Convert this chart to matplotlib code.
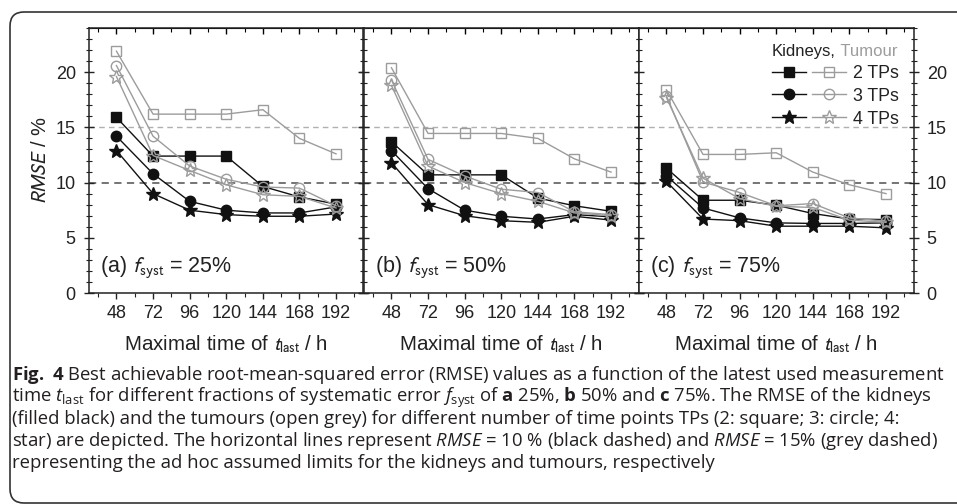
import matplotlib
matplotlib.use("Agg")
import matplotlib.pyplot as plt
from matplotlib.ticker import MultipleLocator
from matplotlib.legend_handler import HandlerTuple
from matplotlib.patches import FancyBboxPatch
from matplotlib.text import Annotation
from matplotlib.transforms import IdentityTransform

plt.rcParams["font.family"] = ["Liberation Sans", "DejaVu Sans"]
plt.rcParams["mathtext.fontset"] = "custom"
plt.rcParams["mathtext.rm"] = "Open Sans"
plt.rcParams["mathtext.it"] = "Open Sans:italic"
plt.rcParams["mathtext.bf"] = "Open Sans:bold"

# latest measurement time (h)
t_last = [48, 72, 96, 120, 144, 168, 192]

# (a) f_syst = 25 %
kid_2tp_25 = [15.9, 12.4, 12.4, 12.4, 9.65, 8.7, 8.05]
kid_3tp_25 = [14.2, 10.8, 8.3, 7.5, 7.25, 7.25, 7.8]
kid_4tp_25 = [12.9, 9.0, 7.5, 7.1, 6.95, 6.95, 7.15]
tum_2tp_25 = [21.9, 16.2, 16.2, 16.2, 16.6, 14.0, 12.6]
tum_3tp_25 = [20.6, 14.2, 11.5, 10.3, 9.6, 9.5, 7.9]
tum_4tp_25 = [19.6, 12.45, 11.1, 9.8, 8.9, 8.75, 7.7]

# (b) f_syst = 50 %
kid_2tp_50 = [13.7, 10.7, 10.7, 10.7, 8.6, 7.9, 7.4]
kid_3tp_50 = [12.9, 9.45, 7.5, 6.95, 6.7, 7.1, 6.9]
kid_4tp_50 = [11.8, 8.0, 7.0, 6.55, 6.4, 6.95, 6.6]
tum_2tp_50 = [20.4, 14.45, 14.45, 14.45, 14.0, 12.15, 10.95]
tum_3tp_50 = [19.3, 12.1, 10.6, 9.4, 9.1, 7.35, 7.1]
tum_4tp_50 = [18.8, 11.5, 10.0, 9.0, 8.3, 7.25, 7.0]

# (c) f_syst = 75 %
kid_2tp_75 = [11.3, 8.4, 8.4, 7.95, 7.2, 6.7, 6.65]
kid_3tp_75 = [10.6, 7.7, 6.8, 6.35, 6.3, 6.3, 6.35]
kid_4tp_75 = [10.1, 6.7, 6.55, 6.05, 6.05, 6.05, 5.9]
tum_2tp_75 = [18.4, 12.55, 12.55, 12.7, 10.95, 9.8, 9.0]
tum_3tp_75 = [17.85, 10.05, 9.1, 7.9, 8.1, 6.8, 6.5]
tum_4tp_75 = [17.7, 10.4, 8.55, 7.85, 7.75, 6.6, 6.4]

panels = [
    ("(a)", "25%", [kid_2tp_25, kid_3tp_25, kid_4tp_25], [tum_2tp_25, tum_3tp_25, tum_4tp_25]),
    ("(b)", "50%", [kid_2tp_50, kid_3tp_50, kid_4tp_50], [tum_2tp_50, tum_3tp_50, tum_4tp_50]),
    ("(c)", "75%", [kid_2tp_75, kid_3tp_75, kid_4tp_75], [tum_2tp_75, tum_3tp_75, tum_4tp_75]),
]
tp_labels = ["2 TPs", "3 TPs", "4 TPs"]
markers = ["s", "o", "*"]
msizes = [7, 7.5, 10]
limit_kidney = 10
limit_tumour = 15

black = "#111111"
grey = "#9c9c9c"
txt = "#222222"

fig = plt.figure(figsize=(9.57, 5.04), dpi=100)
W, H = 957, 504

# rounded frame around the figure (cut at right/bottom edges)
frame = FancyBboxPatch((10, 1), 980, 491, boxstyle="round,pad=0,rounding_size=14",
                       transform=IdentityTransform(), fill=False, edgecolor="#333333", lw=1.2)
fig.patches.append(frame)

left_px = [89, 364, 639]
axes = []
leg = None
for i, (tag, frac, kids, tums) in enumerate(panels):
    ax = fig.add_axes([left_px[i] / W, 1 - 293 / H, 274.5 / W, 265 / H])
    axes.append(ax)
    ax.axhline(limit_tumour, color="#b0b0b0", lw=1.0, dashes=(4, 3), zorder=1)
    ax.axhline(limit_kidney, color="#6a6a6a", lw=1.3, dashes=(4, 3), zorder=1)
    kl, tl = [], []
    for k, yk in enumerate(kids):
        l1, = ax.plot(t_last, yk, color=black, lw=1.0, marker=markers[k], ms=msizes[k],
                      mfc=black, mec=black, zorder=3)
        kl.append(l1)
    for k, yt in enumerate(tums):
        l2, = ax.plot(t_last, yt, color=grey, lw=1.0, marker=markers[k], ms=msizes[k],
                      mfc="none", mec=grey, mew=1.0, zorder=4)
        tl.append(l2)

    ax.set_xlim(30, 210)
    ax.set_ylim(0, 24)
    ax.set_xticks(t_last)
    ax.xaxis.set_minor_locator(MultipleLocator(12))
    ax.set_yticks([0, 5, 10, 15, 20])
    ax.yaxis.set_minor_locator(MultipleLocator(1))
    ax.tick_params(axis="x", which="both", direction="out", labelsize=13, colors=txt, pad=5)
    ax.tick_params(axis="x", which="major", length=4, width=1)
    ax.tick_params(axis="x", which="minor", length=3, width=0.8)
    ax.tick_params(axis="y", which="both", direction="inout", left=True, right=True,
                   labelleft=(i == 0), labelright=(i == 2), labelsize=13, colors=txt, pad=6)
    ax.tick_params(axis="y", which="major", length=7, width=1)
    ax.tick_params(axis="y", which="minor", length=4, width=0.8)
    for sp in ax.spines.values():
        sp.set_color("#222222")
        sp.set_linewidth(1.1)
    top = ax.secondary_xaxis("top")
    top.set_xticks(t_last)
    top.xaxis.set_minor_locator(MultipleLocator(12))
    top.tick_params(which="both", direction="in", labeltop=False)
    top.tick_params(which="major", length=4, width=1)
    top.tick_params(which="minor", length=3, width=0.8)

    ax.set_xlabel(r"Maximal time of $t_{\mathrm{last}}$ / h", fontsize=14.8, color=txt,
                  labelpad=8, math_fontfamily="stixsans")
    ax.text(0.04, 0.098, tag + r" $f_{\mathrm{syst}}$ = " + frac, transform=ax.transAxes,
            fontsize=15.5, color=txt, va="center", ha="left", math_fontfamily="stixsans")

    if i == 2:
        handles = [(a, b) for a, b in zip(kl, tl)]
        leg = ax.legend(handles, tp_labels, handler_map={tuple: HandlerTuple(ndivide=None, pad=0.3)},
                        loc="upper right", bbox_to_anchor=(0.945, 0.94), frameon=False,
                        fontsize=12.8, handlelength=4.2, handletextpad=0.35, labelspacing=0.33,
                        borderpad=0, borderaxespad=0, numpoints=1, title="Kidneys,",
                        title_fontsize=12, alignment="left")
        for t in leg.get_texts():
            t.set_color(txt)
        leg.get_title().set_color(txt)

# grey "Tumour" next to the legend title, drawn after the axes
tum_word = Annotation(" Tumour", xy=(1, 0), xycoords=leg.get_title(), va="bottom", ha="left",
                      fontsize=12, color=grey)
tum_word.set_zorder(10)
fig.add_artist(tum_word)

axes[0].set_ylabel(r"$\mathit{RMSE}$ / %", fontsize=14.5, color=txt, labelpad=4,
                   math_fontfamily="stixsans")

# caption
cap_color = "#231f20"
caption_lines = [
    r"$\mathbf{Fig.\ 4}$ Best achievable root-mean-squared error (RMSE) values as a function of the latest used measurement",
    r"time $t_{\mathrm{last}}$ for different fractions of systematic error $f_{\mathrm{syst}}$ of $\mathbf{a}$ 25%, $\mathbf{b}$ 50% and $\mathbf{c}$ 75%. The RMSE of the kidneys",
    r"(filled black) and the tumours (open grey) for different number of time points TPs (2: square; 3: circle; 4:",
    r"star) are depicted. The horizontal lines represent $\mathit{RMSE}$ = 10 % (black dashed) and $\mathit{RMSE}$ = 15% (grey dashed)",
    r"representing the ad hoc assumed limits for the kidneys and tumours, respectively",
]
cap_texts = []
for j, line in enumerate(caption_lines):
    yb = 380 + j * 22
    cap_texts.append(fig.text(12 / W, 1 - yb / H, line, fontsize=10, family="Open Sans",
                              color=cap_color, ha="left", va="baseline"))
# scale caption so the first line spans the frame width
renderer = fig.canvas.get_renderer()
scale = 932 / cap_texts[0].get_window_extent(renderer).width
for t in cap_texts:
    t.set_fontsize(10 * scale)

fig.savefig("out.png", dpi=100)
